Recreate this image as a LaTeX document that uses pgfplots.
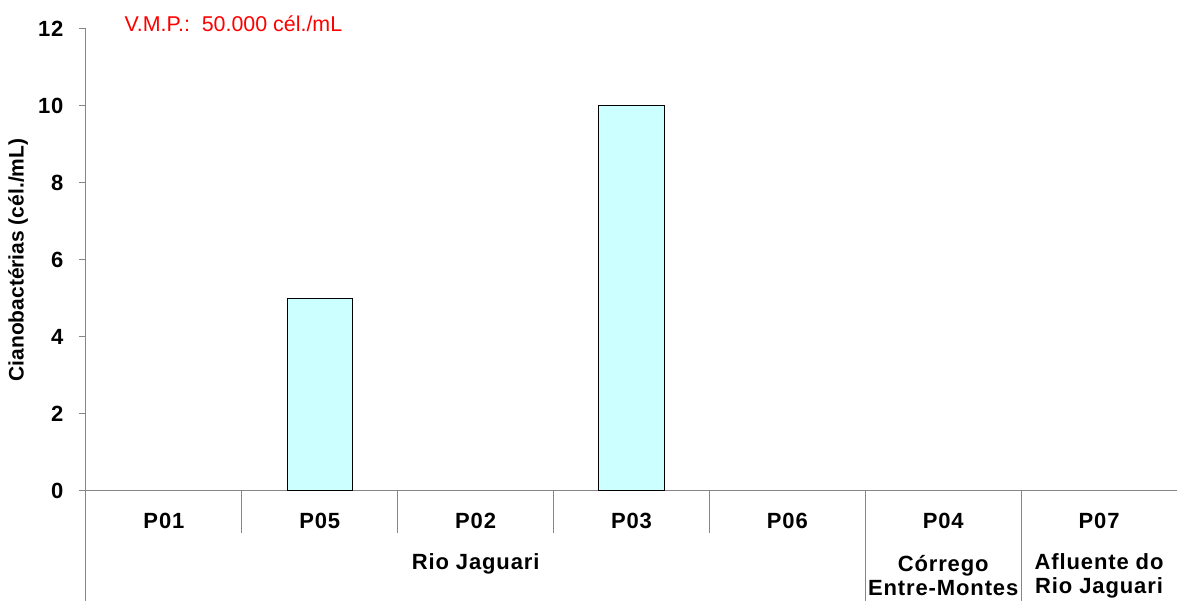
\documentclass[border=0pt]{standalone}
\usepackage{fontspec}
\setmainfont{Liberation Sans}
\newfontfamily\lblfont[LetterSpace=4]{Liberation Sans}
\usepackage{pgfplots}
\pgfplotsset{compat=1.18}
\definecolor{barfill}{HTML}{CCFFFF}
\definecolor{axgray}{HTML}{868686}
\newcommand{\lbl}{\lblfont\bfseries\fontsize{22}{24}\selectfont}
\begin{document}
\begin{tikzpicture}
\path[use as bounding box] (-86pt,-110pt) rectangle (1091pt,491pt);
\begin{axis}[
  at={(0,0)}, anchor=south west,
  scale only axis, width=1091pt, height=462pt,
  xmin=-0.5, xmax=6.5, ymin=0, ymax=12,
  axis x line=bottom, axis y line=left,
  axis line style={-, draw=axgray, line width=1pt},
  ytick={0,2,...,12},
  xtick={0,...,6},
  xticklabels={P01,P05,P02,P03,P06,P04,P07},
  x tick style={draw=none},
  y tick style={draw=axgray, line width=1pt},
  tick align=outside, major tick length=7pt,
  /pgf/number format/assume math mode=true,
  yticklabel style={font=\lbl, xshift=-12pt},
  xticklabel style={font=\lbl, yshift=-12pt},
  ylabel={Cianobactérias (cél./mL)},
  ylabel style={font=\bfseries\fontsize{21}{24}\selectfont, at={(axis description cs:-0.0623,0.5)}, anchor=center},
  clip=false,
  unbounded coords=discard,
  y filter/.expression={y==0 ? nan : y},
]
\addplot[ybar, bar width=0.42, fill=barfill, draw=black, line width=1pt]
  coordinates {(0,0) (1,5) (2,0) (3,10) (4,0) (5,0) (6,0)};
\pgfplotsinvokeforeach{0.5,1.5,2.5,3.5}{
  \draw[axgray, line width=1pt] (axis cs:#1,0) -- ([yshift=-42pt]axis cs:#1,0);
}
\pgfplotsinvokeforeach{4.5,5.5}{
  \draw[axgray, line width=1pt] (axis cs:#1,0) -- ([yshift=-110pt]axis cs:#1,0);
}
\draw[axgray, line width=1pt] (axis cs:-0.5,0) -- ([yshift=-110pt]axis cs:-0.5,0);
\node[font=\lbl] at (axis cs:2,0) [yshift=-73pt] {Rio Jaguari};
\node[font=\lbl, align=center] at (axis cs:5,0) [yshift=-85pt] {Córrego\\Entre-Montes};
\node[font=\lbl, align=center] at (axis cs:6,0) [yshift=-85pt] {Afluente do\\Rio Jaguari};
\node[anchor=west, text=red, font=\fontsize{21.4}{24}\selectfont] at (rel axis cs:0,1) [xshift=35pt, yshift=5pt] {V.M.P.:\ \ 50.000 cél./mL};
\end{axis}
\end{tikzpicture}
\end{document}
